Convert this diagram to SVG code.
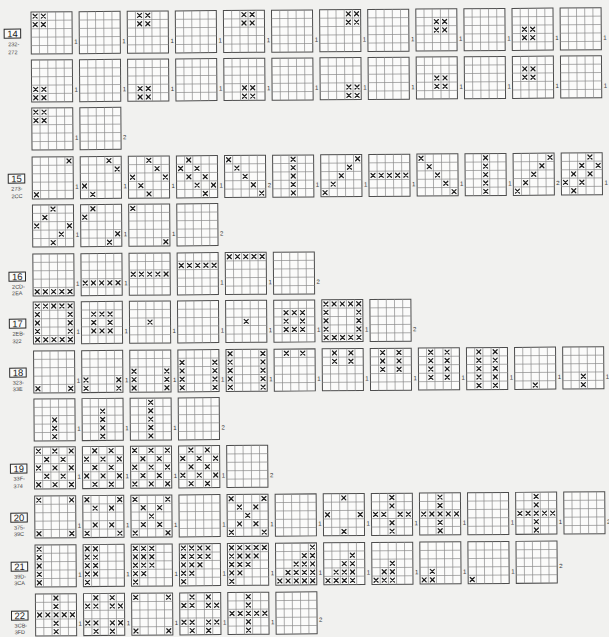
<svg xmlns="http://www.w3.org/2000/svg" xmlns:xlink="http://www.w3.org/1999/xlink" width="609" height="637" viewBox="0 0 609 637">
<style>
.go{fill:#fbfbfa;stroke:#4d4d4d;stroke-width:1}
.gi{fill:none;stroke:#8a8a8a;stroke-width:.7}
.xm{fill:none;stroke:#1e1e1e;stroke-width:1.25;stroke-linecap:round}
.lb{font-family:"Liberation Sans",Arial,sans-serif;font-size:6px;fill:#333}
.bx{fill:#fbfbfa;stroke:#2a2a2a;stroke-width:1}
.sn{font-family:"Liberation Sans",Arial,sans-serif;font-size:9.5px;fill:#1e1e1e;text-anchor:middle}
.sr{font-family:"Liberation Sans",Arial,sans-serif;font-size:5.5px;fill:#444}
</style>
<defs>
<g id="g"><rect class="go" width="41" height="42"/><path class="gi" d="M8.2 0V42M16.4 0V42M24.6 0V42M32.8 0V42M0 8.4H41M0 16.8H41M0 25.2H41M0 33.6H41"/></g>
<path id="c00" class="xm" d="M2.1 2.2l4 4m0-4l-4 4"/>
<path id="c01" class="xm" d="M10.3 2.2l4 4m0-4l-4 4"/>
<path id="c02" class="xm" d="M18.5 2.2l4 4m0-4l-4 4"/>
<path id="c03" class="xm" d="M26.7 2.2l4 4m0-4l-4 4"/>
<path id="c04" class="xm" d="M34.9 2.2l4 4m0-4l-4 4"/>
<path id="c10" class="xm" d="M2.1 10.6l4 4m0-4l-4 4"/>
<path id="c11" class="xm" d="M10.3 10.6l4 4m0-4l-4 4"/>
<path id="c12" class="xm" d="M18.5 10.6l4 4m0-4l-4 4"/>
<path id="c13" class="xm" d="M26.7 10.6l4 4m0-4l-4 4"/>
<path id="c14" class="xm" d="M34.9 10.6l4 4m0-4l-4 4"/>
<path id="c20" class="xm" d="M2.1 19l4 4m0-4l-4 4"/>
<path id="c21" class="xm" d="M10.3 19l4 4m0-4l-4 4"/>
<path id="c22" class="xm" d="M18.5 19l4 4m0-4l-4 4"/>
<path id="c23" class="xm" d="M26.7 19l4 4m0-4l-4 4"/>
<path id="c24" class="xm" d="M34.9 19l4 4m0-4l-4 4"/>
<path id="c30" class="xm" d="M2.1 27.4l4 4m0-4l-4 4"/>
<path id="c31" class="xm" d="M10.3 27.4l4 4m0-4l-4 4"/>
<path id="c32" class="xm" d="M18.5 27.4l4 4m0-4l-4 4"/>
<path id="c33" class="xm" d="M26.7 27.4l4 4m0-4l-4 4"/>
<path id="c34" class="xm" d="M34.9 27.4l4 4m0-4l-4 4"/>
<path id="c40" class="xm" d="M2.1 35.8l4 4m0-4l-4 4"/>
<path id="c41" class="xm" d="M10.3 35.8l4 4m0-4l-4 4"/>
<path id="c42" class="xm" d="M18.5 35.8l4 4m0-4l-4 4"/>
<path id="c43" class="xm" d="M26.7 35.8l4 4m0-4l-4 4"/>
<path id="c44" class="xm" d="M34.9 35.8l4 4m0-4l-4 4"/>
</defs>
<rect width="609" height="637" fill="#f1f1ef"/>
<g id="connectors"/>
<g id="sheet" transform="rotate(-0.43 31 12)">

<g id="sec14">
<g id="hdr14"><rect class="bx" x="4" y="29" width="16.5" height="9"/><text class="sn" x="12.25" y="37">14</text><text class="sr" x="8" y="46">232-</text><text class="sr" x="8" y="54">272</text></g>
<g id="s14a01" transform="translate(31 12)"><use href="#g"/><use href="#c00"/><use href="#c01"/><use href="#c10"/><use href="#c11"/><text class="lb" x="43" y="32">1</text></g>
<g id="s14a02" transform="translate(79.1 12)"><use href="#g"/><text class="lb" x="43" y="32">1</text></g>
<g id="s14a03" transform="translate(127.2 12)"><use href="#g"/><use href="#c01"/><use href="#c02"/><use href="#c11"/><use href="#c12"/><text class="lb" x="43" y="32">1</text></g>
<g id="s14a04" transform="translate(175.3 12)"><use href="#g"/><text class="lb" x="43" y="32">1</text></g>
<g id="s14a05" transform="translate(223.4 12)"><use href="#g"/><use href="#c02"/><use href="#c03"/><use href="#c12"/><use href="#c13"/><text class="lb" x="43" y="32">1</text></g>
<g id="s14a06" transform="translate(271.5 12)"><use href="#g"/><text class="lb" x="43" y="32">1</text></g>
<g id="s14a07" transform="translate(319.6 12)"><use href="#g"/><use href="#c03"/><use href="#c04"/><use href="#c13"/><use href="#c14"/><text class="lb" x="43" y="32">1</text></g>
<g id="s14a08" transform="translate(367.7 12)"><use href="#g"/><text class="lb" x="43" y="32">1</text></g>
<g id="s14a09" transform="translate(415.8 12)"><use href="#g"/><use href="#c12"/><use href="#c13"/><use href="#c22"/><use href="#c23"/><text class="lb" x="43" y="32">1</text></g>
<g id="s14a10" transform="translate(463.9 12)"><use href="#g"/><text class="lb" x="43" y="32">1</text></g>
<g id="s14a11" transform="translate(512 12)"><use href="#g"/><use href="#c21"/><use href="#c22"/><use href="#c31"/><use href="#c32"/><text class="lb" x="43" y="32">1</text></g>
<g id="s14a12" transform="translate(560.1 12)"><use href="#g"/><text class="lb" x="43" y="32">1</text></g>

<g id="s14b01" transform="translate(31 60)"><use href="#g"/><use href="#c30"/><use href="#c31"/><use href="#c40"/><use href="#c41"/><text class="lb" x="43" y="32">1</text></g>
<g id="s14b02" transform="translate(79.1 60)"><use href="#g"/><text class="lb" x="43" y="32">1</text></g>
<g id="s14b03" transform="translate(127.2 60)"><use href="#g"/><use href="#c31"/><use href="#c32"/><use href="#c41"/><use href="#c42"/><text class="lb" x="43" y="32">1</text></g>
<g id="s14b04" transform="translate(175.3 60)"><use href="#g"/><text class="lb" x="43" y="32">1</text></g>
<g id="s14b05" transform="translate(223.4 60)"><use href="#g"/><use href="#c32"/><use href="#c33"/><use href="#c42"/><use href="#c43"/><text class="lb" x="43" y="32">1</text></g>
<g id="s14b06" transform="translate(271.5 60)"><use href="#g"/><text class="lb" x="43" y="32">1</text></g>
<g id="s14b07" transform="translate(319.6 60)"><use href="#g"/><use href="#c33"/><use href="#c34"/><use href="#c43"/><use href="#c44"/><text class="lb" x="43" y="32">1</text></g>
<g id="s14b08" transform="translate(367.7 60)"><use href="#g"/><text class="lb" x="43" y="32">1</text></g>
<g id="s14b09" transform="translate(415.8 60)"><use href="#g"/><use href="#c22"/><use href="#c23"/><use href="#c32"/><use href="#c33"/><text class="lb" x="43" y="32">1</text></g>
<g id="s14b10" transform="translate(463.9 60)"><use href="#g"/><text class="lb" x="43" y="32">1</text></g>
<g id="s14b11" transform="translate(512 60)"><use href="#g"/><use href="#c11"/><use href="#c12"/><use href="#c21"/><use href="#c22"/><text class="lb" x="43" y="32">1</text></g>
<g id="s14b12" transform="translate(560.1 60)"><use href="#g"/><text class="lb" x="43" y="32">1</text></g>

<g id="s14c01" transform="translate(31 108)"><use href="#g"/><use href="#c00"/><use href="#c01"/><use href="#c10"/><use href="#c11"/><text class="lb" x="43" y="32">1</text></g>
<g id="s14c02" transform="translate(79.1 108)"><use href="#g"/><text class="lb" x="43" y="32">2</text></g>
</g>

<g id="sec15">
<g id="hdr15"><rect class="bx" x="7" y="174" width="16.5" height="9"/><text class="sn" x="15.25" y="182">15</text><text class="sr" x="10" y="190.5">273-</text><text class="sr" x="10" y="198">2CC</text></g>
<g id="s15a01" transform="translate(31 157)"><use href="#g"/><use href="#c04"/><use href="#c40"/><text class="lb" x="43" y="32">1</text></g>
<g id="s15a02" transform="translate(79.1 157)"><use href="#g"/><use href="#c03"/><use href="#c14"/><use href="#c30"/><use href="#c41"/><text class="lb" x="43" y="32">1</text></g>
<g id="s15a03" transform="translate(127.2 157)"><use href="#g"/><use href="#c02"/><use href="#c13"/><use href="#c24"/><use href="#c20"/><use href="#c31"/><use href="#c42"/><text class="lb" x="43" y="32">1</text></g>
<g id="s15a04" transform="translate(175.3 157)"><use href="#g"/><use href="#c01"/><use href="#c10"/><use href="#c12"/><use href="#c21"/><use href="#c23"/><use href="#c32"/><use href="#c34"/><use href="#c43"/><text class="lb" x="43" y="32">1</text></g>
<g id="s15a05" transform="translate(223.4 157)"><use href="#g"/><use href="#c00"/><use href="#c11"/><use href="#c22"/><use href="#c33"/><use href="#c44"/><text class="lb" x="43" y="32">2</text></g>
<g id="s15a06" transform="translate(271.5 157)"><use href="#g"/><use href="#c02"/><use href="#c12"/><use href="#c22"/><use href="#c32"/><use href="#c42"/><text class="lb" x="43" y="32">1</text></g>
<g id="s15a07" transform="translate(319.6 157)"><use href="#g"/><use href="#c04"/><use href="#c13"/><use href="#c22"/><use href="#c31"/><use href="#c40"/><text class="lb" x="43" y="32">1</text></g>
<g id="s15a08" transform="translate(367.7 157)"><use href="#g"/><use href="#c20"/><use href="#c21"/><use href="#c22"/><use href="#c23"/><use href="#c24"/><text class="lb" x="43" y="32">1</text></g>
<g id="s15a09" transform="translate(415.8 157)"><use href="#g"/><use href="#c00"/><use href="#c11"/><use href="#c22"/><use href="#c33"/><use href="#c44"/><text class="lb" x="43" y="32">1</text></g>
<g id="s15a10" transform="translate(463.9 157)"><use href="#g"/><use href="#c02"/><use href="#c12"/><use href="#c22"/><use href="#c32"/><use href="#c42"/><text class="lb" x="43" y="32">1</text></g>
<g id="s15a11" transform="translate(512 157)"><use href="#g"/><use href="#c04"/><use href="#c13"/><use href="#c22"/><use href="#c31"/><use href="#c40"/><text class="lb" x="43" y="32">2</text></g>
<g id="s15a12" transform="translate(560.1 157)"><use href="#g"/><use href="#c03"/><use href="#c12"/><use href="#c14"/><use href="#c21"/><use href="#c23"/><use href="#c30"/><use href="#c32"/><use href="#c41"/><text class="lb" x="43" y="32">1</text></g>

<g id="s15b01" transform="translate(31 205)"><use href="#g"/><use href="#c02"/><use href="#c11"/><use href="#c20"/><use href="#c24"/><use href="#c33"/><use href="#c42"/><text class="lb" x="43" y="32">1</text></g>
<g id="s15b02" transform="translate(79.1 205)"><use href="#g"/><use href="#c01"/><use href="#c10"/><use href="#c34"/><use href="#c43"/><text class="lb" x="43" y="32">1</text></g>
<g id="s15b03" transform="translate(127.2 205)"><use href="#g"/><use href="#c00"/><use href="#c44"/><text class="lb" x="43" y="32">1</text></g>
<g id="s15b04" transform="translate(175.3 205)"><use href="#g"/><text class="lb" x="43" y="32">2</text></g>
</g>

<g id="sec16">
<g id="hdr16"><rect class="bx" x="7" y="272" width="16.5" height="9"/><text class="sn" x="15.25" y="280">16</text><text class="sr" x="10" y="288.5">2CD-</text><text class="sr" x="10" y="295">2EA</text></g>
<g id="s16a01" transform="translate(31 254)"><use href="#g"/><use href="#c40"/><use href="#c41"/><use href="#c42"/><use href="#c43"/><use href="#c44"/><text class="lb" x="43" y="32">1</text></g>
<g id="s16a02" transform="translate(79.1 254)"><use href="#g"/><use href="#c30"/><use href="#c31"/><use href="#c32"/><use href="#c33"/><use href="#c34"/><text class="lb" x="43" y="32">1</text></g>
<g id="s16a03" transform="translate(127.2 254)"><use href="#g"/><use href="#c20"/><use href="#c21"/><use href="#c22"/><use href="#c23"/><use href="#c24"/></g>
<g id="s16a04" transform="translate(175.3 254)"><use href="#g"/><use href="#c10"/><use href="#c11"/><use href="#c12"/><use href="#c13"/><use href="#c14"/><text class="lb" x="43" y="32">1</text></g>
<g id="s16a05" transform="translate(223.4 254)"><use href="#g"/><use href="#c00"/><use href="#c01"/><use href="#c02"/><use href="#c03"/><use href="#c04"/><text class="lb" x="43" y="32">1</text></g>
<g id="s16a06" transform="translate(271.5 254)"><use href="#g"/><text class="lb" x="43" y="32">2</text></g>
</g>

<g id="sec17">
<g id="hdr17"><rect class="bx" x="7" y="319" width="16.5" height="9"/><text class="sn" x="15.25" y="327">17</text><text class="sr" x="10" y="335.5">2EB-</text><text class="sr" x="10" y="343">322</text></g>
<g id="s17a01" transform="translate(31 302)"><use href="#g"/><use href="#c00"/><use href="#c01"/><use href="#c02"/><use href="#c03"/><use href="#c04"/><use href="#c10"/><use href="#c14"/><use href="#c20"/><use href="#c24"/><use href="#c30"/><use href="#c34"/><use href="#c40"/><use href="#c41"/><use href="#c42"/><use href="#c43"/><use href="#c44"/><text class="lb" x="43" y="32">1</text></g>
<g id="s17a02" transform="translate(79.1 302)"><use href="#g"/><use href="#c11"/><use href="#c12"/><use href="#c13"/><use href="#c21"/><use href="#c23"/><use href="#c31"/><use href="#c32"/><use href="#c33"/><text class="lb" x="43" y="32">1</text></g>
<g id="s17a03" transform="translate(127.2 302)"><use href="#g"/><use href="#c22"/><text class="lb" x="43" y="32">1</text></g>
<g id="s17a04" transform="translate(175.3 302)"><use href="#g"/><text class="lb" x="43" y="32">1</text></g>
<g id="s17a05" transform="translate(223.4 302)"><use href="#g"/><use href="#c22"/><text class="lb" x="43" y="32">1</text></g>
<g id="s17a06" transform="translate(271.5 302)"><use href="#g"/><use href="#c11"/><use href="#c12"/><use href="#c13"/><use href="#c21"/><use href="#c23"/><use href="#c31"/><use href="#c32"/><use href="#c33"/><text class="lb" x="43" y="32">1</text></g>
<g id="s17a07" transform="translate(319.6 302)"><use href="#g"/><use href="#c00"/><use href="#c01"/><use href="#c02"/><use href="#c03"/><use href="#c04"/><use href="#c10"/><use href="#c14"/><use href="#c20"/><use href="#c24"/><use href="#c30"/><use href="#c34"/><use href="#c40"/><use href="#c41"/><use href="#c42"/><use href="#c43"/><use href="#c44"/><text class="lb" x="43" y="32">1</text></g>
<g id="s17a08" transform="translate(367.7 302)"><use href="#g"/><text class="lb" x="43" y="32">2</text></g>
</g>

<g id="sec18">
<g id="hdr18"><rect class="bx" x="7" y="368" width="16.5" height="9"/><text class="sn" x="15.25" y="376">18</text><text class="sr" x="10" y="384.5">323-</text><text class="sr" x="10" y="391">33E</text></g>
<g id="s18a01" transform="translate(31 351)"><use href="#g"/><use href="#c40"/><use href="#c44"/><text class="lb" x="43" y="32">1</text></g>
<g id="s18a02" transform="translate(79.1 351)"><use href="#g"/><use href="#c30"/><use href="#c34"/><use href="#c40"/><use href="#c44"/><text class="lb" x="43" y="32">1</text></g>
<g id="s18a03" transform="translate(127.2 351)"><use href="#g"/><use href="#c20"/><use href="#c24"/><use href="#c30"/><use href="#c34"/><use href="#c40"/><use href="#c44"/><text class="lb" x="43" y="32">1</text></g>
<g id="s18a04" transform="translate(175.3 351)"><use href="#g"/><use href="#c10"/><use href="#c14"/><use href="#c20"/><use href="#c24"/><use href="#c30"/><use href="#c34"/><use href="#c40"/><use href="#c44"/><text class="lb" x="43" y="32">1</text></g>
<g id="s18a05" transform="translate(223.4 351)"><use href="#g"/><use href="#c00"/><use href="#c04"/><use href="#c10"/><use href="#c14"/><use href="#c20"/><use href="#c24"/><use href="#c30"/><use href="#c34"/><use href="#c40"/><use href="#c44"/><text class="lb" x="43" y="32">1</text></g>
<g id="s18a06" transform="translate(271.5 351)"><use href="#g"/><use href="#c01"/><use href="#c03"/><text class="lb" x="43" y="32">1</text></g>
<g id="s18a07" transform="translate(319.6 351)"><use href="#g"/><use href="#c01"/><use href="#c03"/><use href="#c11"/><use href="#c13"/><text class="lb" x="43" y="32">1</text></g>
<g id="s18a08" transform="translate(367.7 351)"><use href="#g"/><use href="#c01"/><use href="#c03"/><use href="#c11"/><use href="#c13"/><use href="#c21"/><use href="#c23"/><text class="lb" x="43" y="32">1</text></g>
<g id="s18a09" transform="translate(415.8 351)"><use href="#g"/><use href="#c01"/><use href="#c03"/><use href="#c11"/><use href="#c13"/><use href="#c21"/><use href="#c23"/><use href="#c31"/><use href="#c33"/><text class="lb" x="43" y="32">1</text></g>
<g id="s18a10" transform="translate(463.9 351)"><use href="#g"/><use href="#c01"/><use href="#c03"/><use href="#c11"/><use href="#c13"/><use href="#c21"/><use href="#c23"/><use href="#c31"/><use href="#c33"/><use href="#c41"/><use href="#c43"/><text class="lb" x="43" y="32">1</text></g>
<g id="s18a11" transform="translate(512 351)"><use href="#g"/><use href="#c42"/><text class="lb" x="43" y="32">1</text></g>
<g id="s18a12" transform="translate(560.1 351)"><use href="#g"/><use href="#c32"/><use href="#c42"/><text class="lb" x="43" y="32">1</text></g>

<g id="s18b01" transform="translate(31 399)"><use href="#g"/><use href="#c22"/><use href="#c32"/><use href="#c42"/><text class="lb" x="43" y="32">1</text></g>
<g id="s18b02" transform="translate(79.1 399)"><use href="#g"/><use href="#c12"/><use href="#c22"/><use href="#c32"/><use href="#c42"/><text class="lb" x="43" y="32">1</text></g>
<g id="s18b03" transform="translate(127.2 399)"><use href="#g"/><use href="#c02"/><use href="#c12"/><use href="#c22"/><use href="#c32"/><use href="#c42"/><text class="lb" x="43" y="32">1</text></g>
<g id="s18b04" transform="translate(175.3 399)"><use href="#g"/><text class="lb" x="43" y="32">2</text></g>
</g>

<g id="sec19">
<g id="hdr19"><rect class="bx" x="7" y="464" width="16.5" height="9"/><text class="sn" x="15.25" y="472">19</text><text class="sr" x="10" y="480.5">33F-</text><text class="sr" x="10" y="488">374</text></g>
<g id="s19a01" transform="translate(31 447)"><use href="#g"/><use href="#c00"/><use href="#c02"/><use href="#c04"/><use href="#c11"/><use href="#c13"/><use href="#c20"/><use href="#c22"/><use href="#c24"/><use href="#c31"/><use href="#c33"/><use href="#c40"/><use href="#c42"/><use href="#c44"/><text class="lb" x="43" y="32">1</text></g>
<g id="s19a02" transform="translate(79.1 447)"><use href="#g"/><use href="#c01"/><use href="#c03"/><use href="#c10"/><use href="#c12"/><use href="#c14"/><use href="#c21"/><use href="#c23"/><use href="#c30"/><use href="#c32"/><use href="#c34"/><use href="#c41"/><use href="#c43"/><text class="lb" x="43" y="32">1</text></g>
<g id="s19a03" transform="translate(127.2 447)"><use href="#g"/><use href="#c00"/><use href="#c02"/><use href="#c04"/><use href="#c11"/><use href="#c13"/><use href="#c20"/><use href="#c22"/><use href="#c24"/><use href="#c31"/><use href="#c33"/><use href="#c40"/><use href="#c42"/><use href="#c44"/><text class="lb" x="43" y="32">1</text></g>
<g id="s19a04" transform="translate(175.3 447)"><use href="#g"/><use href="#c01"/><use href="#c03"/><use href="#c10"/><use href="#c12"/><use href="#c14"/><use href="#c21"/><use href="#c23"/><use href="#c30"/><use href="#c32"/><use href="#c34"/><use href="#c41"/><use href="#c43"/><text class="lb" x="43" y="32">1</text></g>
<g id="s19a05" transform="translate(223.4 447)"><use href="#g"/><text class="lb" x="43" y="32">2</text></g>
</g>

<g id="sec20">
<g id="hdr20"><rect class="bx" x="7" y="513" width="16.5" height="9"/><text class="sn" x="15.25" y="521">20</text><text class="sr" x="10" y="529.5">375-</text><text class="sr" x="10" y="536">39C</text></g>
<g id="s20a01" transform="translate(31 496)"><use href="#g"/><use href="#c00"/><use href="#c04"/><use href="#c40"/><use href="#c44"/><text class="lb" x="43" y="32">1</text></g>
<g id="s20a02" transform="translate(79.1 496)"><use href="#g"/><use href="#c00"/><use href="#c04"/><use href="#c11"/><use href="#c13"/><use href="#c31"/><use href="#c33"/><use href="#c40"/><use href="#c44"/><text class="lb" x="43" y="32">1</text></g>
<g id="s20a03" transform="translate(127.2 496)"><use href="#g"/><use href="#c00"/><use href="#c04"/><use href="#c11"/><use href="#c13"/><use href="#c22"/><use href="#c31"/><use href="#c33"/><use href="#c40"/><use href="#c44"/><text class="lb" x="43" y="32">1</text></g>
<g id="s20a04" transform="translate(175.3 496)"><use href="#g"/><text class="lb" x="43" y="32">1</text></g>
<g id="s20a05" transform="translate(223.4 496)"><use href="#g"/><use href="#c00"/><use href="#c04"/><use href="#c11"/><use href="#c13"/><use href="#c22"/><use href="#c31"/><use href="#c33"/><use href="#c40"/><use href="#c44"/><text class="lb" x="43" y="32">1</text></g>
<g id="s20a06" transform="translate(271.5 496)"><use href="#g"/><text class="lb" x="43" y="32">1</text></g>
<g id="s20a07" transform="translate(319.6 496)"><use href="#g"/><use href="#c02"/><use href="#c20"/><use href="#c24"/><use href="#c42"/><text class="lb" x="43" y="32">1</text></g>
<g id="s20a08" transform="translate(367.7 496)"><use href="#g"/><use href="#c02"/><use href="#c12"/><use href="#c20"/><use href="#c21"/><use href="#c23"/><use href="#c24"/><use href="#c32"/><use href="#c42"/><text class="lb" x="43" y="32">1</text></g>
<g id="s20a09" transform="translate(415.8 496)"><use href="#g"/><use href="#c02"/><use href="#c12"/><use href="#c20"/><use href="#c21"/><use href="#c22"/><use href="#c23"/><use href="#c24"/><use href="#c32"/><use href="#c42"/><text class="lb" x="43" y="32">1</text></g>
<g id="s20a10" transform="translate(463.9 496)"><use href="#g"/><text class="lb" x="43" y="32">1</text></g>
<g id="s20a11" transform="translate(512 496)"><use href="#g"/><use href="#c02"/><use href="#c12"/><use href="#c20"/><use href="#c21"/><use href="#c22"/><use href="#c23"/><use href="#c24"/><use href="#c32"/><use href="#c42"/><text class="lb" x="43" y="32">1</text></g>
<g id="s20a12" transform="translate(560.1 496)"><use href="#g"/><text class="lb" x="43" y="32">2</text></g>
</g>

<g id="sec21">
<g id="hdr21"><rect class="bx" x="7" y="562" width="16.5" height="9"/><text class="sn" x="15.25" y="570">21</text><text class="sr" x="10" y="578.5">39D-</text><text class="sr" x="10" y="585">3CA</text></g>
<g id="s21a01" transform="translate(31 545)"><use href="#g"/><use href="#c00"/><use href="#c10"/><use href="#c20"/><use href="#c30"/><use href="#c40"/><text class="lb" x="43" y="32">1</text></g>
<g id="s21a02" transform="translate(79.1 545)"><use href="#g"/><use href="#c00"/><use href="#c01"/><use href="#c10"/><use href="#c11"/><use href="#c20"/><use href="#c21"/><use href="#c30"/><use href="#c31"/><use href="#c40"/><text class="lb" x="43" y="32">1</text></g>
<g id="s21a03" transform="translate(127.2 545)"><use href="#g"/><use href="#c00"/><use href="#c01"/><use href="#c02"/><use href="#c10"/><use href="#c11"/><use href="#c12"/><use href="#c20"/><use href="#c21"/><use href="#c22"/><use href="#c30"/><use href="#c31"/><use href="#c40"/><text class="lb" x="43" y="32">1</text></g>
<g id="s21a04" transform="translate(175.3 545)"><use href="#g"/><use href="#c00"/><use href="#c01"/><use href="#c02"/><use href="#c03"/><use href="#c10"/><use href="#c11"/><use href="#c12"/><use href="#c13"/><use href="#c20"/><use href="#c21"/><use href="#c22"/><use href="#c30"/><use href="#c31"/><use href="#c40"/><text class="lb" x="43" y="32">1</text></g>
<g id="s21a05" transform="translate(223.4 545)"><use href="#g"/><use href="#c00"/><use href="#c01"/><use href="#c02"/><use href="#c03"/><use href="#c04"/><use href="#c10"/><use href="#c11"/><use href="#c12"/><use href="#c13"/><use href="#c20"/><use href="#c21"/><use href="#c22"/><use href="#c30"/><use href="#c31"/><use href="#c40"/><text class="lb" x="43" y="32">1</text></g>
<g id="s21a06" transform="translate(271.5 545)"><use href="#g"/><use href="#c04"/><use href="#c13"/><use href="#c14"/><use href="#c22"/><use href="#c23"/><use href="#c24"/><use href="#c31"/><use href="#c32"/><use href="#c33"/><use href="#c34"/><use href="#c40"/><use href="#c41"/><use href="#c42"/><use href="#c43"/><use href="#c44"/><text class="lb" x="43" y="32">1</text></g>
<g id="s21a07" transform="translate(319.6 545)"><use href="#g"/><use href="#c13"/><use href="#c22"/><use href="#c23"/><use href="#c31"/><use href="#c32"/><use href="#c33"/><use href="#c40"/><use href="#c41"/><use href="#c42"/><use href="#c43"/><text class="lb" x="43" y="32">1</text></g>
<g id="s21a08" transform="translate(367.7 545)"><use href="#g"/><use href="#c22"/><use href="#c31"/><use href="#c32"/><use href="#c40"/><use href="#c41"/><use href="#c42"/><text class="lb" x="43" y="32">1</text></g>
<g id="s21a09" transform="translate(415.8 545)"><use href="#g"/><use href="#c31"/><use href="#c40"/><use href="#c41"/><text class="lb" x="43" y="32">1</text></g>
<g id="s21a10" transform="translate(463.9 545)"><use href="#g"/><use href="#c40"/><text class="lb" x="43" y="32">1</text></g>
<g id="s21a11" transform="translate(512 545)"><use href="#g"/><text class="lb" x="43" y="27">2</text></g>
</g>

<g id="sec22">
<g id="hdr22"><rect class="bx" x="7" y="611" width="16.5" height="9"/><text class="sn" x="15.25" y="619">22</text><text class="sr" x="10" y="627.5">3CB-</text><text class="sr" x="10" y="634">3FD</text></g>
<g id="s22a01" transform="translate(31 594)"><use href="#g"/><use href="#c02"/><use href="#c12"/><use href="#c20"/><use href="#c21"/><use href="#c22"/><use href="#c23"/><use href="#c24"/><use href="#c32"/><use href="#c42"/><text class="lb" x="43" y="32">1</text></g>
<g id="s22a02" transform="translate(79.1 594)"><use href="#g"/><use href="#c01"/><use href="#c03"/><use href="#c10"/><use href="#c11"/><use href="#c13"/><use href="#c14"/><use href="#c30"/><use href="#c31"/><use href="#c33"/><use href="#c34"/><use href="#c41"/><use href="#c43"/><text class="lb" x="43" y="32">1</text></g>
<g id="s22a03" transform="translate(127.2 594)"><use href="#g"/><use href="#c00"/><use href="#c04"/><use href="#c40"/><use href="#c44"/><text class="lb" x="43" y="32">1</text></g>
<g id="s22a04" transform="translate(175.3 594)"><use href="#g"/><use href="#c01"/><use href="#c03"/><use href="#c10"/><use href="#c11"/><use href="#c13"/><use href="#c14"/><use href="#c30"/><use href="#c31"/><use href="#c33"/><use href="#c34"/><use href="#c41"/><use href="#c43"/><text class="lb" x="43" y="32">1</text></g>
<g id="s22a05" transform="translate(223.4 594)"><use href="#g"/><use href="#c02"/><use href="#c12"/><use href="#c20"/><use href="#c21"/><use href="#c22"/><use href="#c23"/><use href="#c24"/><use href="#c32"/><use href="#c42"/><text class="lb" x="43" y="32">1</text></g>
<g id="s22a06" transform="translate(271.5 594)"><use href="#g"/><text class="lb" x="43" y="30">2</text></g>
</g>

</g>
</svg>
